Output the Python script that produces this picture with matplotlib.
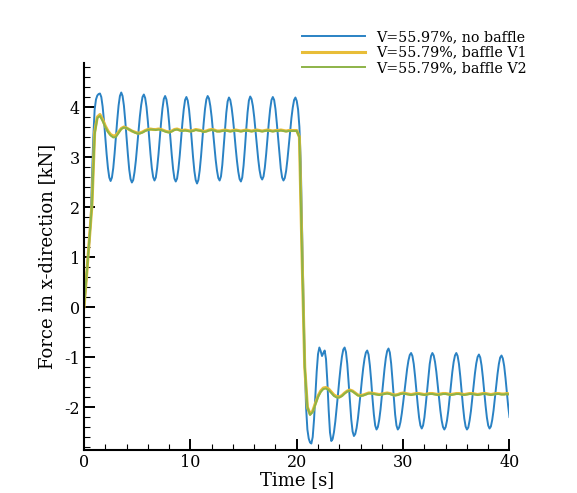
#!/usr/bin/python3
import matplotlib
matplotlib.use('Agg')
import matplotlib.pyplot as plt
from matplotlib.ticker import MultipleLocator
import numpy as np

# no-baffle case sampled every 0.125 s, baffle cases every 0.25 s (t = 0 ... 40 s)
step_no_baffle = 0.125
step_baffle = 0.25

force_no_baffle = [
    0.0, 0.3, 0.65, 1.0, 1.3, 1.7, 2.6, 3.4, 3.95, 4.15, 4.23, 4.26, 4.27,
    4.20, 4.01, 3.73, 3.40, 3.06, 2.78, 2.59, 2.52,
    2.59, 2.78, 3.07, 3.41, 3.74, 4.03, 4.22, 4.29,
    4.22, 4.03, 3.73, 3.39, 3.05, 2.75, 2.56, 2.49,
    2.54, 2.70, 2.93, 3.22, 3.52, 3.81, 4.04, 4.20, 4.25,
    4.18, 4.00, 3.72, 3.39, 3.06, 2.78, 2.60, 2.53,
    2.59, 2.78, 3.05, 3.38, 3.70, 3.97, 4.16, 4.22,
    4.15, 3.97, 3.69, 3.37, 3.04, 2.76, 2.57, 2.51,
    2.57, 2.76, 3.03, 3.36, 3.68, 3.95, 4.14, 4.20,
    4.13, 3.95, 3.67, 3.34, 3.00, 2.72, 2.54, 2.47,
    2.54, 2.73, 3.01, 3.35, 3.68, 3.96, 4.15, 4.22,
    4.17, 4.02, 3.80, 3.52, 3.23, 2.95, 2.73, 2.58, 2.53,
    2.61, 2.84, 3.18, 3.54, 3.88, 4.11, 4.19,
    4.14, 3.99, 3.77, 3.50, 3.20, 2.93, 2.71, 2.56, 2.51,
    2.59, 2.83, 3.17, 3.55, 3.89, 4.13, 4.21,
    4.16, 4.02, 3.80, 3.52, 3.24, 2.96, 2.74, 2.60, 2.55,
    2.61, 2.79, 3.06, 3.38, 3.69, 3.96, 4.14, 4.20,
    4.14, 3.96, 3.68, 3.37, 3.05, 2.77, 2.59, 2.53,
    2.58, 2.72, 2.95, 3.22, 3.50, 3.78, 3.99, 4.14, 4.19,
    4.12, 3.95, 3.6, 2.9, 1.6, 0.2, -1.1, -2.0, -2.45, -2.63, -2.71, -2.73,
    -2.60, -2.25, -1.77, -1.29, -0.94, -0.81,
    -0.88, -0.98, -0.92, -0.87,
    -1.04, -1.49, -2.06, -2.51, -2.68,
    -2.64, -2.50, -2.29, -2.03, -1.75, -1.46, -1.20, -0.99, -0.85, -0.81,
    -0.90, -1.14, -1.50, -1.89, -2.25, -2.49, -2.58,
    -2.54, -2.42, -2.23, -1.99, -1.73, -1.46, -1.22, -1.03, -0.91, -0.87,
    -0.95, -1.17, -1.48, -1.84, -2.15, -2.37, -2.45,
    -2.40, -2.26, -2.05, -1.78, -1.50, -1.24, -1.02, -0.88, -0.83,
    -0.91, -1.13, -1.46, -1.82, -2.15, -2.37, -2.45,
    -2.41, -2.30, -2.13, -1.92, -1.69, -1.45, -1.24, -1.07, -0.96, -0.92,
    -0.98, -1.14, -1.39, -1.68, -1.96, -2.21, -2.37, -2.43,
    -2.37, -2.21, -1.96, -1.68, -1.39, -1.14, -0.98, -0.92,
    -0.97, -1.10, -1.30, -1.55, -1.82, -2.07, -2.27, -2.40, -2.45,
    -2.40, -2.27, -2.07, -1.82, -1.55, -1.30, -1.10, -0.97, -0.92,
    -0.98, -1.14, -1.39, -1.69, -1.98, -2.23, -2.39, -2.45,
    -2.41, -2.27, -2.08, -1.83, -1.57, -1.33, -1.13, -1.00, -0.95,
    -1.01, -1.17, -1.41, -1.69, -1.97, -2.21, -2.37, -2.43,
    -2.39, -2.26, -2.07, -1.83, -1.57, -1.34, -1.14, -1.01, -0.97,
    -1.03, -1.18, -1.42, -1.70, -1.98, -2.20,
]

force_baffle_v1 = [
    0.0, 0.65, 1.35, 2.05, 3.5, 3.8, 3.85, 3.75, 3.62, 3.52, 3.45, 3.42, 3.43, 3.5, 3.57, 3.6,
    3.58, 3.55, 3.52, 3.5, 3.48, 3.48, 3.5, 3.53, 3.55, 3.56, 3.55, 3.55, 3.56, 3.55, 3.53, 3.51,
    3.5, 3.52, 3.55, 3.56, 3.54, 3.53, 3.54, 3.53, 3.52, 3.53, 3.55, 3.54, 3.53, 3.51, 3.52, 3.54,
    3.55, 3.54, 3.52, 3.52, 3.53, 3.54, 3.53, 3.52, 3.53, 3.54, 3.53, 3.52, 3.53, 3.54, 3.53, 3.52,
    3.53, 3.54, 3.53, 3.52, 3.53, 3.54, 3.53, 3.52, 3.53, 3.53, 3.54, 3.53, 3.52, 3.53, 3.53, 3.53,
    3.53,
    3.4, 1.0, -1.2, -2.0, -2.14, -2.08, -1.93, -1.78, -1.68, -1.62, -1.61, -1.64, -1.7, -1.76, -1.79, -1.8,
    -1.77, -1.72, -1.68, -1.66, -1.68, -1.72, -1.76, -1.77, -1.76, -1.74, -1.72, -1.72, -1.73, -1.74, -1.75, -1.74,
    -1.73, -1.72, -1.73, -1.75, -1.76, -1.75, -1.73, -1.72, -1.73, -1.74, -1.75, -1.74, -1.73, -1.73, -1.74, -1.75,
    -1.74, -1.73, -1.73, -1.74, -1.75, -1.74, -1.73, -1.73, -1.74, -1.75, -1.74, -1.73, -1.73, -1.74, -1.75, -1.74,
    -1.73, -1.73, -1.74, -1.75, -1.74, -1.73, -1.73, -1.74, -1.75, -1.74, -1.73, -1.73, -1.74, -1.74, -1.73, -1.74,
]

force_baffle_v2 = [
    0.0, 0.65, 1.35, 2.05, 3.45, 3.78, 3.82, 3.72, 3.6, 3.5, 3.43, 3.39, 3.4, 3.48, 3.56, 3.59,
    3.58, 3.55, 3.52, 3.49, 3.47, 3.47, 3.49, 3.52, 3.54, 3.55, 3.55, 3.54, 3.55, 3.54, 3.52, 3.5,
    3.49, 3.51, 3.54, 3.55, 3.53, 3.52, 3.53, 3.52, 3.51, 3.52, 3.54, 3.53, 3.52, 3.5, 3.51, 3.53,
    3.54, 3.53, 3.51, 3.51, 3.52, 3.53, 3.52, 3.51, 3.52, 3.53, 3.52, 3.51, 3.52, 3.53, 3.52, 3.51,
    3.52, 3.53, 3.52, 3.51, 3.52, 3.53, 3.52, 3.51, 3.52, 3.52, 3.53, 3.52, 3.51, 3.52, 3.52, 3.52,
    3.52,
    3.4, 1.0, -1.2, -2.0, -2.16, -2.1, -1.95, -1.8, -1.7, -1.64, -1.63, -1.66, -1.72, -1.78, -1.81, -1.81,
    -1.78, -1.73, -1.69, -1.67, -1.69, -1.73, -1.77, -1.78, -1.77, -1.75, -1.73, -1.73, -1.74, -1.75, -1.76, -1.75,
    -1.74, -1.73, -1.74, -1.76, -1.77, -1.76, -1.74, -1.73, -1.74, -1.75, -1.76, -1.75, -1.74, -1.74, -1.75, -1.76,
    -1.75, -1.74, -1.74, -1.75, -1.76, -1.75, -1.74, -1.74, -1.75, -1.76, -1.75, -1.74, -1.74, -1.75, -1.76, -1.75,
    -1.74, -1.74, -1.75, -1.76, -1.75, -1.74, -1.74, -1.75, -1.76, -1.75, -1.74, -1.74, -1.75, -1.75, -1.74, -1.75,
]

labels = ['V=55.97%, no baffle', 'V=55.79%, baffle V1', 'V=55.79%, baffle V2']
colors = ['#2a82c4', '#e8bd38', '#8db347']


def main():
    plt.rcParams['font.family'] = ['DejaVu Serif']
    plt.rcParams['axes.unicode_minus'] = False

    fig = plt.figure(figsize=(5.77, 4.93), dpi=100)
    ax = fig.add_axes([0.1456, 0.0872, 0.883 - 0.1456, 0.8722 - 0.0872])

    series = [force_no_baffle, force_baffle_v1, force_baffle_v2]
    steps = [step_no_baffle, step_baffle, step_baffle]
    widths = [1.4, 2.2, 1.4]
    for y, dt, lab, col, lw in zip(series, steps, labels, colors, widths):
        y = np.asarray(y)
        t = np.arange(len(y)) * dt
        ax.plot(t, y, color=col, lw=lw, label=lab)

    ax.set_xlim(0, 40)
    ax.set_ylim(-2.86, 4.88)
    ax.xaxis.set_major_locator(MultipleLocator(10))
    ax.xaxis.set_minor_locator(MultipleLocator(2))
    ax.yaxis.set_major_locator(MultipleLocator(1))
    ax.yaxis.set_minor_locator(MultipleLocator(0.2))
    ax.tick_params(which='both', direction='in', colors='black', labelsize=11.5)
    ax.tick_params(which='major', length=8, width=1.4, pad=3)
    ax.tick_params(which='minor', length=4.5, width=0.8)
    ax.spines['top'].set_visible(False)
    ax.spines['right'].set_visible(False)
    for s in ['left', 'bottom']:
        ax.spines[s].set_linewidth(1.5)

    ax.set_xlabel('Time [s]', fontsize=13, labelpad=0)
    ax.set_ylabel('Force in x-direction [kN]', fontsize=13, labelpad=6)

    fig.legend(loc='upper left', bbox_to_anchor=(302 / 577, 1 - 30 / 493),
               frameon=False, fontsize=10.3, handlelength=4.4, handletextpad=0.8,
               borderpad=0, borderaxespad=0, labelspacing=0.12)

    fig.savefig('out.png', dpi=100)


if __name__ == '__main__':
    main()
